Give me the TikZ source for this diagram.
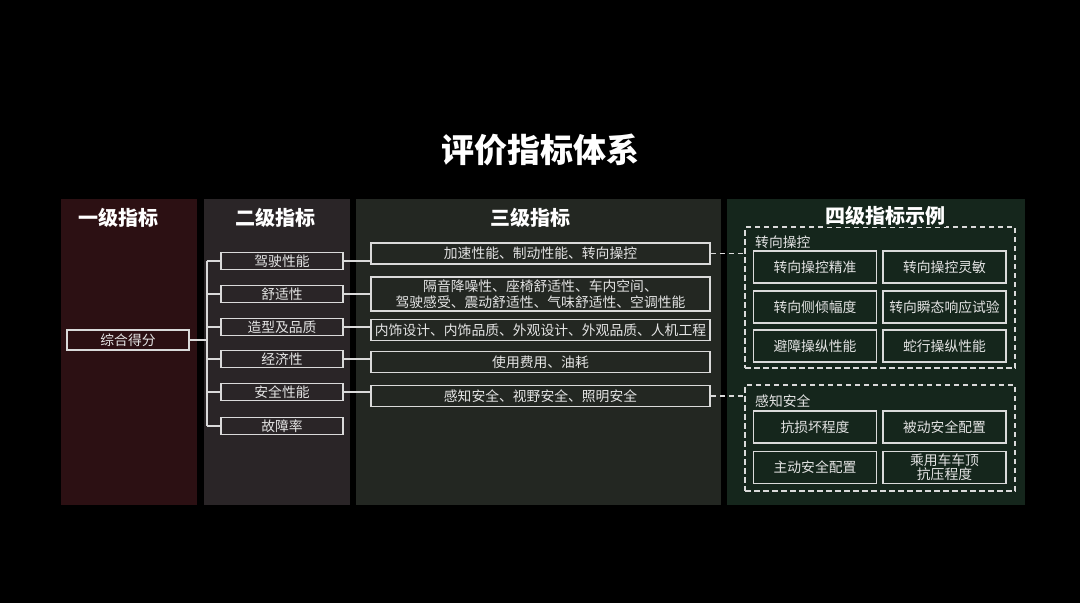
\documentclass[tikz,border=0pt]{standalone}
\usepackage{fontspec}
\setmainfont{Noto Sans CJK SC}
\usetikzlibrary{calc}

\definecolor{panelA}{HTML}{2C1013}
\definecolor{panelB}{HTML}{2A2527}
\definecolor{panelC}{HTML}{232722}
\definecolor{panelD}{HTML}{15261C}
\definecolor{lineC}{HTML}{DADADA}
\definecolor{textC}{HTML}{E4E4E4}

\begin{document}
\begin{tikzpicture}[x=1pt,y=-1pt]
\tikzset{
  ttl/.style={text=white,font=\fontsize{33}{36}\selectfont\bfseries},
  head/.style={text=white,font=\fontsize{20}{22}\selectfont\bfseries},
  box/.style={draw=lineC,line width=1.5pt,text=textC,inner sep=0pt,
    font=\fontsize{13.8}{16}\selectfont,align=center},
  lvtwo/.style={box,minimum width=122,minimum height=17},
  lvthree/.style={box,minimum width=339,minimum height=21},
  lvfour/.style={box,minimum width=123,minimum height=32},
  group/.style={draw=lineC,line width=1.5pt,dash pattern=on 5.5pt off 3.5pt,
    inner sep=0pt},
  tag/.style={text=textC,font=\fontsize{13.8}{16}\selectfont,anchor=west,inner sep=0pt},
  link/.style={draw=lineC,line width=1.5pt},
  dashlink/.style={draw=lineC,line width=1.5pt,dash pattern=on 5.5pt off 3.5pt}
}
\fill[black] (0,0) rectangle (1080,603);
\fill[panelA] (61,199) rectangle (197,505);
\fill[panelB] (204,199) rectangle (350,505);
\fill[panelC] (356,199) rectangle (721,505);
\fill[panelD] (727,199) rectangle (1025,505);

\node[ttl] (title) at (540,150) {评价指标体系};
\node[head] (h1) at (118,218) {一级指标};
\node[head] (h2) at (275,218) {二级指标};
\node[head] (h3) at (530,218) {三级指标};

\node[box,minimum width=122,minimum height=20] (score) at (128,340) {综合得分};

\node[lvtwo] (b1) at (282,261) {驾驶性能};
\node[lvtwo] (b2) at (282,294) {舒适性};
\node[lvtwo] (b3) at (282,327) {造型及品质};
\node[lvtwo] (b4) at (282,359) {经济性};
\node[lvtwo] (b5) at (282,392) {安全性能};
\node[lvtwo] (b6) at (282,426) {故障率};

\node[lvthree] (c1) at (540.5,253.5) {加速性能、制动性能、转向操控};
\node[lvthree,minimum height=34] (c2) at (540.5,294) {隔音降噪性、座椅舒适性、车内空间、\\驾驶感受、震动舒适性、气味舒适性、空调性能};
\node[lvthree] (c3) at (540.5,330) {内饰设计、内饰品质、外观设计、外观品质、人机工程};
\node[lvthree] (c4) at (540.5,362) {使用费用、油耗};
\node[lvthree] (c5) at (540.5,396) {感知安全、视野安全、照明安全};

\node[group,minimum width=270,minimum height=141] (g1) at (880,297.5) {};
\node[group,minimum width=270,minimum height=106] (g2) at (880,438) {};
\node[head,fill=panelD,inner sep=1pt] (h4) at (885,216) {四级指标示例};

\node[tag] (t1) at (755,242) {转向操控};
\node[lvfour] (d1) at (815,267) {转向操控精准};
\node[lvfour] (d2) at (944.5,267) {转向操控灵敏};
\node[lvfour] (d3) at (815,307) {转向侧倾幅度};
\node[lvfour] (d4) at (944.5,307) {转向瞬态响应试验};
\node[lvfour] (d5) at (815,346) {避障操纵性能};
\node[lvfour] (d6) at (944.5,346) {蛇行操纵性能};

\node[tag] (t2) at (755,401) {感知安全};
\node[lvfour] (e1) at (815,427) {抗损坏程度};
\node[lvfour] (e2) at (944.5,427) {被动安全配置};
\node[lvfour] (e3) at (815,467.5) {主动安全配置};
\node[lvfour,font=\fontsize{13.8}{14.5}\selectfont] (e4) at (944.5,467.5) {乘用车车顶\\抗压程度};

\draw[link] (score.east) -- ++(17,0) coordinate (trunk);
\draw[link] (trunk |- b1.west) -- (trunk |- b6.west);
\foreach \n in {b1,b2,b3,b4,b5,b6}
  \draw[link] (trunk |- \n.west) -- (\n.west);
\foreach \a/\b in {b1/c1,b2/c2,b3/c3,b4/c4,b5/c5}
  \draw[link] (\a.east) -- (\a.east -| \b.west);
\draw[dashlink] (c1.east) -- (c1.east -| g1.west);
\draw[dashlink] (c5.east) -- (c5.east -| g2.west);
\end{tikzpicture}
\end{document}
